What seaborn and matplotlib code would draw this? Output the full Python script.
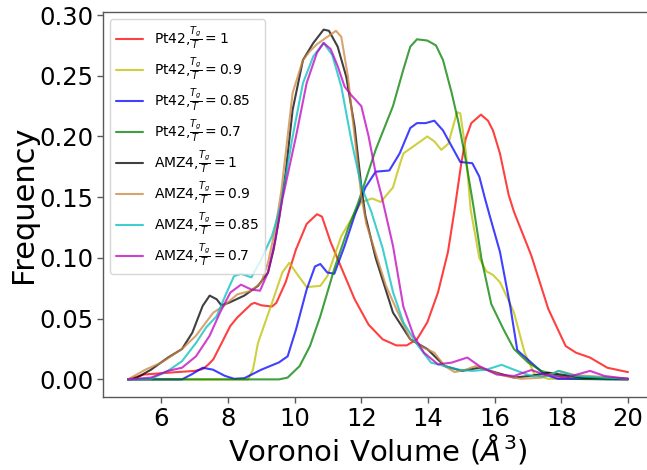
import numpy as np
import pandas as pd
import matplotlib
matplotlib.use("Agg")
import matplotlib.pyplot as plt
import seaborn as sns

# ---- data ----
labels = [r"Pt42,$\frac{T_g}{T}=1$", r"Pt42,$\frac{T_g}{T}=0.9$",
          r"Pt42,$\frac{T_g}{T}=0.85$", r"Pt42,$\frac{T_g}{T}=0.7$",
          r"AMZ4,$\frac{T_g}{T}=1$", r"AMZ4,$\frac{T_g}{T}=0.9$",
          r"AMZ4,$\frac{T_g}{T}=0.85$", r"AMZ4,$\frac{T_g}{T}=0.7$"]
colors = ["#ff0000", "#bfbf00", "#0000ff", "#008000", "#000000", "#cd853f", "#00bfbf", "#bf00bf"]

x_pt42_1 = [5.0, 5.48, 6.2, 7.0, 7.24, 7.4, 7.56, 8.07, 8.28, 8.7, 8.8, 9.0, 9.32, 9.45, 9.73, 10.04, 10.36, 10.67, 10.82, 11.08, 11.4, 11.8, 12.22, 12.64, 13.05, 13.36, 13.67, 13.98, 14.3, 14.6, 14.8, 15.0, 15.13, 15.3, 15.59, 15.8, 15.95, 16.16, 16.42, 16.58, 17.1, 17.61, 18.13, 18.44, 18.86, 19.38, 20.0]
y_pt42_1 = [0.0, 0.004, 0.0055, 0.007, 0.0085, 0.012, 0.0165, 0.044, 0.051, 0.062, 0.063, 0.061, 0.060, 0.063, 0.080, 0.107, 0.128, 0.136, 0.134, 0.113, 0.092, 0.066, 0.045, 0.033, 0.028, 0.028, 0.033, 0.047, 0.0715, 0.105, 0.140, 0.178, 0.198, 0.211, 0.218, 0.213, 0.205, 0.186, 0.152, 0.138, 0.102, 0.058, 0.0275, 0.022, 0.018, 0.0096, 0.006]

x_pt42_09 = [5.0, 8.6, 8.75, 8.9, 9.32, 9.63, 9.84, 10.04, 10.36, 10.77, 10.98, 11.4, 11.7, 12.0, 12.33, 12.58, 12.95, 13.1, 13.26, 13.57, 13.98, 14.19, 14.4, 14.61, 14.87, 14.97, 15.13, 15.28, 15.54, 15.75, 15.95, 16.16, 16.37, 16.58, 16.9, 17.2, 17.6, 20.0]
y_pt42_09 = [0.0, 0.0, 0.008, 0.030, 0.063, 0.088, 0.096, 0.088, 0.076, 0.077, 0.085, 0.118, 0.132, 0.146, 0.149, 0.146, 0.158, 0.172, 0.186, 0.192, 0.200, 0.196, 0.189, 0.194, 0.220, 0.219, 0.189, 0.140, 0.100, 0.089, 0.086, 0.080, 0.068, 0.055, 0.022, 0.004, 0.0005, 0.0]

x_pt42_085 = [5.0, 6.62, 6.9, 7.24, 7.55, 7.9, 8.18, 8.49, 9.0, 9.53, 9.79, 10.04, 10.36, 10.61, 10.77, 10.98, 11.19, 11.5, 11.8, 12.12, 12.43, 12.84, 13.15, 13.47, 13.67, 13.93, 14.19, 14.45, 14.71, 14.97, 15.33, 15.54, 15.7, 15.85, 16.16, 16.47, 16.68, 17.1, 17.5, 17.9, 20.0]
y_pt42_085 = [0.0, 0.0, 0.004, 0.0096, 0.008, 0.003, 0.0005, 0.001, 0.008, 0.014, 0.019, 0.041, 0.074, 0.093, 0.095, 0.088, 0.087, 0.110, 0.135, 0.158, 0.171, 0.172, 0.186, 0.207, 0.211, 0.211, 0.213, 0.205, 0.192, 0.179, 0.178, 0.167, 0.150, 0.135, 0.105, 0.060, 0.024, 0.0138, 0.004, 0.0005, 0.0]

x_pt42_07 = [5.0, 9.53, 9.79, 10.15, 10.46, 10.77, 11.19, 11.6, 11.9, 12.43, 12.95, 13.26, 13.47, 13.67, 13.98, 14.24, 14.45, 14.71, 14.92, 15.13, 15.35, 15.6, 15.9, 16.27, 16.58, 17.0, 17.4, 17.92, 18.65, 20.0]
y_pt42_07 = [0.0, 0.0, 0.0015, 0.011, 0.0275, 0.052, 0.091, 0.124, 0.145, 0.189, 0.225, 0.255, 0.274, 0.280, 0.279, 0.275, 0.263, 0.236, 0.211, 0.181, 0.145, 0.100, 0.062, 0.041, 0.025, 0.014, 0.007, 0.003, 0.0005, 0.0]

x_amz4_1 = [5.0, 5.27, 5.69, 6.2, 6.62, 6.93, 7.24, 7.45, 7.66, 7.8, 8.02, 8.49, 8.9, 9.2, 9.37, 9.53, 9.73, 9.94, 10.25, 10.56, 10.87, 11.03, 11.29, 11.55, 11.8, 12.0, 12.12, 12.43, 12.95, 13.47, 13.98, 14.5, 15.02, 15.54, 16.06, 16.58, 17.1, 17.61, 18.65, 20.0]
y_amz4_1 = [0.0, 0.0015, 0.008, 0.018, 0.025, 0.0385, 0.0605, 0.069, 0.066, 0.061, 0.063, 0.069, 0.077, 0.088, 0.107, 0.132, 0.170, 0.222, 0.263, 0.277, 0.288, 0.287, 0.274, 0.249, 0.208, 0.159, 0.135, 0.100, 0.055, 0.033, 0.025, 0.011, 0.007, 0.0096, 0.0055, 0.0015, 0.003, 0.0055, 0.0015, 0.0005]

x_amz4_09 = [5.0, 5.52, 6.0, 6.62, 7.04, 7.56, 7.87, 8.28, 8.7, 9.0, 9.2, 9.42, 9.6, 9.94, 10.25, 10.45, 10.67, 10.98, 11.24, 11.4, 11.6, 11.8, 12.0, 12.15, 12.43, 12.74, 13.05, 13.47, 13.88, 14.19, 14.5, 14.8, 15.13, 15.44, 15.85, 16.27, 16.79, 17.4, 17.92, 18.44, 18.86, 20.0]
y_amz4_09 = [0.0, 0.008, 0.0138, 0.025, 0.036, 0.055, 0.0605, 0.070, 0.073, 0.080, 0.096, 0.124, 0.155, 0.236, 0.263, 0.270, 0.276, 0.282, 0.287, 0.282, 0.249, 0.200, 0.151, 0.128, 0.104, 0.077, 0.058, 0.033, 0.026, 0.022, 0.011, 0.006, 0.008, 0.011, 0.007, 0.003, 0.0005, 0.0014, 0.007, 0.0033, 0.0028, 0.0005]

x_amz4_085 = [5.0, 5.69, 6.2, 6.62, 7.04, 7.35, 7.66, 7.92, 8.18, 8.39, 8.7, 9.0, 9.32, 9.58, 9.94, 10.25, 10.56, 10.87, 11.13, 11.4, 11.7, 12.0, 12.3, 12.64, 12.95, 13.26, 13.67, 14.09, 14.5, 14.92, 15.33, 15.75, 16.21, 16.58, 17.1, 17.61, 17.92, 18.44, 19.2, 20.0]
y_amz4_085 = [0.0, 0.0005, 0.007, 0.015, 0.030, 0.043, 0.052, 0.069, 0.085, 0.087, 0.084, 0.099, 0.118, 0.143, 0.200, 0.244, 0.266, 0.277, 0.267, 0.241, 0.197, 0.159, 0.138, 0.108, 0.072, 0.047, 0.029, 0.0138, 0.011, 0.008, 0.007, 0.008, 0.012, 0.008, 0.0028, 0.0028, 0.007, 0.0028, 0.0014, 0.0005]

x_amz4_07 = [5.0, 5.69, 6.2, 6.62, 7.04, 7.45, 7.76, 8.07, 8.39, 8.7, 8.96, 9.2, 9.42, 9.63, 10.04, 10.36, 10.67, 10.87, 11.08, 11.29, 11.5, 11.7, 12.0, 12.22, 12.43, 12.6, 12.95, 13.26, 13.57, 13.88, 14.3, 14.71, 15.18, 15.54, 16.06, 16.58, 17.1, 17.5, 18.13, 18.86, 19.3, 20.0]
y_amz4_07 = [0.0, 0.0015, 0.007, 0.0096, 0.019, 0.036, 0.055, 0.0715, 0.078, 0.074, 0.073, 0.088, 0.115, 0.148, 0.200, 0.244, 0.269, 0.277, 0.272, 0.258, 0.241, 0.234, 0.225, 0.200, 0.170, 0.152, 0.110, 0.060, 0.036, 0.022, 0.0124, 0.0138, 0.018, 0.011, 0.004, 0.0028, 0.0077, 0.004, 0.0014, 0.007, 0.0028, 0.0005]

xs = [x_pt42_1, x_pt42_09, x_pt42_085, x_pt42_07, x_amz4_1, x_amz4_09, x_amz4_085, x_amz4_07]
ys = [y_pt42_1, y_pt42_09, y_pt42_085, y_pt42_07, y_amz4_1, y_amz4_09, y_amz4_085, y_amz4_07]

frames = []
for lab, xv, yv in zip(labels, xs, ys):
    frames.append(pd.DataFrame({"volume": xv, "freq": yv, "series": lab}))
df = pd.concat(frames, ignore_index=True)

sns.set_theme(style="ticks")
plt.rcParams["font.family"] = ["DejaVu Sans"]
plt.rcParams["text.color"] = "black"
plt.rcParams["axes.labelcolor"] = "black"
plt.rcParams["xtick.color"] = "black"
plt.rcParams["ytick.color"] = "black"

fig = plt.figure(figsize=(6.47, 4.70), dpi=100)
ax = fig.add_axes([0.1592, 0.1553, 0.85, 0.8192])

sns.lineplot(data=df, x="volume", y="freq", hue="series", hue_order=labels,
             palette=dict(zip(labels, colors)), estimator=None, sort=False,
             linewidth=1.5, alpha=0.75, ax=ax)

ax.set_xlim(4.25, 20.75)
ax.set_ylim(-0.0145, 0.3025)
ax.set_xticks([6, 8, 10, 12, 14, 16, 18, 20])
ax.set_yticks([0.0, 0.05, 0.10, 0.15, 0.20, 0.25, 0.30])
ax.set_yticklabels(["0.00", "0.05", "0.10", "0.15", "0.20", "0.25", "0.30"])
ax.tick_params(labelsize=17.5, length=4, width=1, color="0.35", pad=3)
for s in ax.spines.values():
    s.set_color("0.35")
    s.set_linewidth(1.0)

ax.set_xlabel(r"Voronoi Volume ($\AA^3$)", fontsize=21, labelpad=1)
ax.set_ylabel("Frequency", fontsize=22, labelpad=1)

leg = ax.legend(loc="upper left", fontsize=10, frameon=True, framealpha=0.8,
                labelspacing=0.25, borderaxespad=0.5)
for line in leg.get_lines():
    line.set_linewidth(1.5)

fig.savefig("out.png", dpi=100)
